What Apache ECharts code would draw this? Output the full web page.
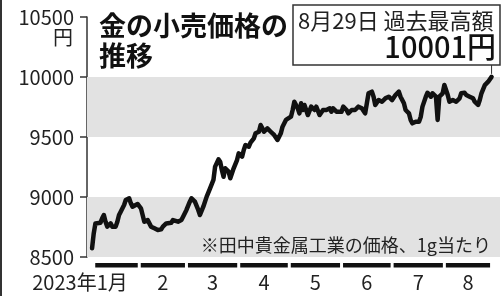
<!DOCTYPE html>
<html>
<head>
<meta charset="utf-8">
<script src="https://cdn.jsdelivr.net/npm/echarts@6/dist/echarts.min.js"></script>
<style>
  html, body { margin: 0; padding: 0; background: #fff; }
  #chart { width: 503px; height: 296px; }
</style>
</head>
<body>
<div id="chart"></div>
<script>
// 金の小売価格（田中貴金属工業、1g当たり、円）
const dates = [
  '2023-01-04','2023-01-05','2023-01-06','2023-01-09','2023-01-10','2023-01-11','2023-01-12','2023-01-13',
  '2023-01-15','2023-01-16','2023-01-17','2023-01-18','2023-01-19','2023-01-20','2023-01-21','2023-01-23',
  '2023-01-24','2023-01-26','2023-01-27','2023-01-28','2023-01-29','2023-01-31',
  '2023-02-01','2023-02-02','2023-02-03','2023-02-04','2023-02-06','2023-02-07','2023-02-08','2023-02-09',
  '2023-02-10','2023-02-12','2023-02-14','2023-02-15','2023-02-17','2023-02-18','2023-02-20','2023-02-21',
  '2023-02-22','2023-02-24','2023-02-25','2023-02-26','2023-02-27',
  '2023-03-01','2023-03-03','2023-03-04','2023-03-06','2023-03-08','2023-03-09','2023-03-11','2023-03-13',
  '2023-03-15','2023-03-17','2023-03-18','2023-03-20','2023-03-21','2023-03-22','2023-03-23','2023-03-24',
  '2023-03-26','2023-03-27','2023-03-28','2023-03-29','2023-03-31',
  '2023-04-01','2023-04-03','2023-04-04','2023-04-05','2023-04-07','2023-04-08','2023-04-10','2023-04-11',
  '2023-04-13','2023-04-14','2023-04-15','2023-04-16','2023-04-18','2023-04-20','2023-04-22','2023-04-24',
  '2023-04-25','2023-04-26','2023-04-27','2023-04-29','2023-04-30',
  '2023-05-02','2023-05-03','2023-05-04','2023-05-05','2023-05-06','2023-05-07','2023-05-08','2023-05-09',
  '2023-05-10','2023-05-12','2023-05-14','2023-05-16','2023-05-17','2023-05-19','2023-05-20','2023-05-21',
  '2023-05-23','2023-05-25','2023-05-26','2023-05-27','2023-05-29','2023-05-30',
  '2023-06-01','2023-06-02','2023-06-04','2023-06-05','2023-06-07','2023-06-09','2023-06-11','2023-06-13',
  '2023-06-15','2023-06-16','2023-06-17','2023-06-19','2023-06-20','2023-06-21','2023-06-23','2023-06-25',
  '2023-06-27','2023-06-29',
  '2023-07-01','2023-07-03','2023-07-05','2023-07-06','2023-07-08','2023-07-09','2023-07-11','2023-07-12',
  '2023-07-13','2023-07-15','2023-07-17','2023-07-18','2023-07-19','2023-07-21','2023-07-22','2023-07-24',
  '2023-07-25','2023-07-27','2023-07-28','2023-07-29','2023-07-31',
  '2023-08-01','2023-08-02','2023-08-03','2023-08-04','2023-08-06','2023-08-07','2023-08-08','2023-08-10',
  '2023-08-11','2023-08-13','2023-08-14','2023-08-16','2023-08-18','2023-08-19','2023-08-21','2023-08-22',
  '2023-08-23','2023-08-24','2023-08-25','2023-08-27','2023-08-28','2023-08-29'
];
const prices = [
  8572, 8697, 8780, 8786, 8822, 8850, 8794, 8753,
  8780, 8753, 8739, 8753, 8794, 8850, 8878, 8933,
  8975, 8989, 8947, 8919, 8933, 8942,
  8933, 8906, 8850, 8794, 8808, 8794, 8753, 8767,
  8739, 8725, 8730, 8753, 8780, 8794, 8786, 8808,
  8822, 8794, 8780, 8808, 8836,
  8892, 8961, 8989, 8961, 8892, 8850, 8919, 9003,
  9072, 9142, 9253, 9314, 9294, 9225, 9169, 9239,
  9211, 9156, 9142, 9239, 9308,
  9364, 9336, 9392, 9433, 9419, 9453, 9489, 9531,
  9544, 9600, 9572, 9544, 9572, 9544, 9517, 9475,
  9461, 9531, 9586, 9642, 9642,
  9669, 9725, 9794, 9808, 9739, 9697, 9781, 9725,
  9767, 9683, 9753, 9725, 9753, 9683, 9669, 9725,
  9725, 9739, 9711, 9739, 9711, 9725,
  9711, 9753, 9725, 9697, 9725, 9725, 9753, 9739,
  9697, 9781, 9864, 9878, 9836, 9767, 9808, 9794,
  9822, 9836,
  9808, 9850, 9878, 9836, 9781, 9725, 9697, 9642,
  9614, 9628, 9628, 9669, 9753, 9836, 9869, 9836,
  9864, 9836, 9642, 9836, 9864,
  9933, 9892, 9850, 9794, 9808, 9822, 9794, 9822,
  9864, 9869, 9850, 9836, 9822, 9794, 9767, 9808,
  9864, 9878, 9933, 9961, 9975, 10001
];

const monthLabels = ['2023年1月', '2', '3', '4', '5', '6', '7', '8'];
const monthStarts = ['2023-01-05', '2023-02-01', '2023-03-01', '2023-04-01', '2023-05-01', '2023-06-01', '2023-07-01', '2023-08-01'];
const monthEnds = ['2023-02-01', '2023-03-01', '2023-04-01', '2023-05-01', '2023-06-01', '2023-07-01', '2023-08-01', '2023-08-29'];

const yTicks = [8500, 9000, 9500, 10000, 10500];
const bands = [[8500, 9000], [9500, 10000]];

const titleText = '金の小売価格の\n推移';
const recordDate = '8月29日 過去最高額';
const recordValue = '10001円';
const note = '※田中貴金属工業の価格、1g当たり';

const FONT = '"Noto Sans CJK JP", "Noto Sans", sans-serif';

const chart = echarts.init(document.getElementById('chart'), null, { renderer: 'canvas' });

const monthData = monthStarts.map((s, i) => [+new Date(s), +new Date(monthEnds[i]), i]);

chart.setOption({
  animation: false,
  backgroundColor: '#fff',
  grid: { left: 87, right: 3, top: 17, bottom: 39 },
  title: {
    text: titleText,
    left: 94,
    top: 6,
    textStyle: { fontFamily: FONT, fontSize: 27, fontWeight: 'bold', color: '#111', lineHeight: 30 }
  },
  xAxis: {
    type: 'time',
    min: '2023-01-01',
    max: '2023-09-03',
    axisLine: { show: false },
    axisTick: { show: false },
    axisLabel: { show: false },
    splitLine: { show: false }
  },
  yAxis: {
    type: 'value',
    min: yTicks[0],
    max: yTicks[yTicks.length - 1],
    interval: 500,
    axisLine: { show: true, lineStyle: { color: '#333', width: 1.5 } },
    axisTick: { show: true, length: 7, lineStyle: { color: '#333', width: 1.5 } },
    axisLabel: { margin: 13, fontFamily: FONT, fontSize: 20, color: '#222', formatter: v => String(v) },
    splitLine: { show: false }
  },
  series: [
    {
      type: 'line',
      data: dates.map((d, i) => [d, prices[i]]),
      symbol: 'none',
      lineStyle: { color: '#111', width: 4.5, join: 'round', cap: 'round' },
      z: 3,
      markArea: {
        silent: true,
        itemStyle: { color: '#e2e2e2' },
        data: bands.map(b => [{ yAxis: b[0] }, { yAxis: b[1] }])
      }
    },
    {
      type: 'custom',
      silent: true,
      clip: false,
      data: monthData,
      encode: { x: [0, 1] },
      renderItem: function (params, api) {
        const a = api.coord([api.value(0), yTicks[0]]);
        const b = api.coord([api.value(1), yTicks[0]]);
        const i = api.value(2);
        const x0 = a[0] + 1.5;
        const x1 = b[0] - 1.5;
        const first = i === 0;
        return {
          type: 'group',
          children: [
            { type: 'rect', shape: { x: x0, y: a[1] + 6, width: x1 - x0, height: 4.5 }, style: { fill: '#111' } },
            {
              type: 'text',
              style: {
                text: monthLabels[i],
                x: first ? x1 - 10 : (x0 + x1) / 2,
                y: a[1] + 25,
                align: first ? 'right' : 'center',
                verticalAlign: 'middle',
                font: '20px ' + FONT,
                fill: '#222'
              }
            }
          ]
        };
      }
    }
  ],
  graphic: [
    { id: 'edge', type: 'rect', left: 0, top: 0, shape: { width: 2, height: 296 }, style: { fill: '#333' } },
    {
      id: 'yen', type: 'text', right: 430, top: 27,
      style: { text: '円', font: '20px ' + FONT, fill: '#222' }
    },
    {
      id: 'box', type: 'rect', shape: { x: 293, y: 5, width: 207, height: 60 },
      style: { fill: '#fff', stroke: '#333', lineWidth: 1.5 }, z: 10
    },
    {
      id: 'boxDate', type: 'text', z: 11,
      style: { text: recordDate, x: 298, y: 21, verticalAlign: 'middle', font: '22px ' + FONT, fill: '#222' }
    },
    {
      id: 'boxValue', type: 'text', z: 11,
      style: { text: recordValue, x: 496, y: 47, align: 'right', verticalAlign: 'middle', font: '500 29px ' + FONT, fill: '#111' }
    },
    {
      id: 'note', type: 'text', z: 11,
      style: { text: note, x: 491, y: 245, align: 'right', verticalAlign: 'middle', font: '18px ' + FONT, fill: '#222' }
    }
  ]
});

// leader line from the box down to the record point
const last = chart.convertToPixel({ seriesIndex: 0 }, [dates[dates.length - 1], prices[prices.length - 1]]);
chart.setOption({
  graphic: [
    {
      id: 'leader', type: 'line', z: 9,
      shape: { x1: last[0], y1: 65, x2: last[0], y2: last[1] - 3 },
      style: { stroke: '#333', lineWidth: 1 }
    }
  ]
});
</script>
</body>
</html>
